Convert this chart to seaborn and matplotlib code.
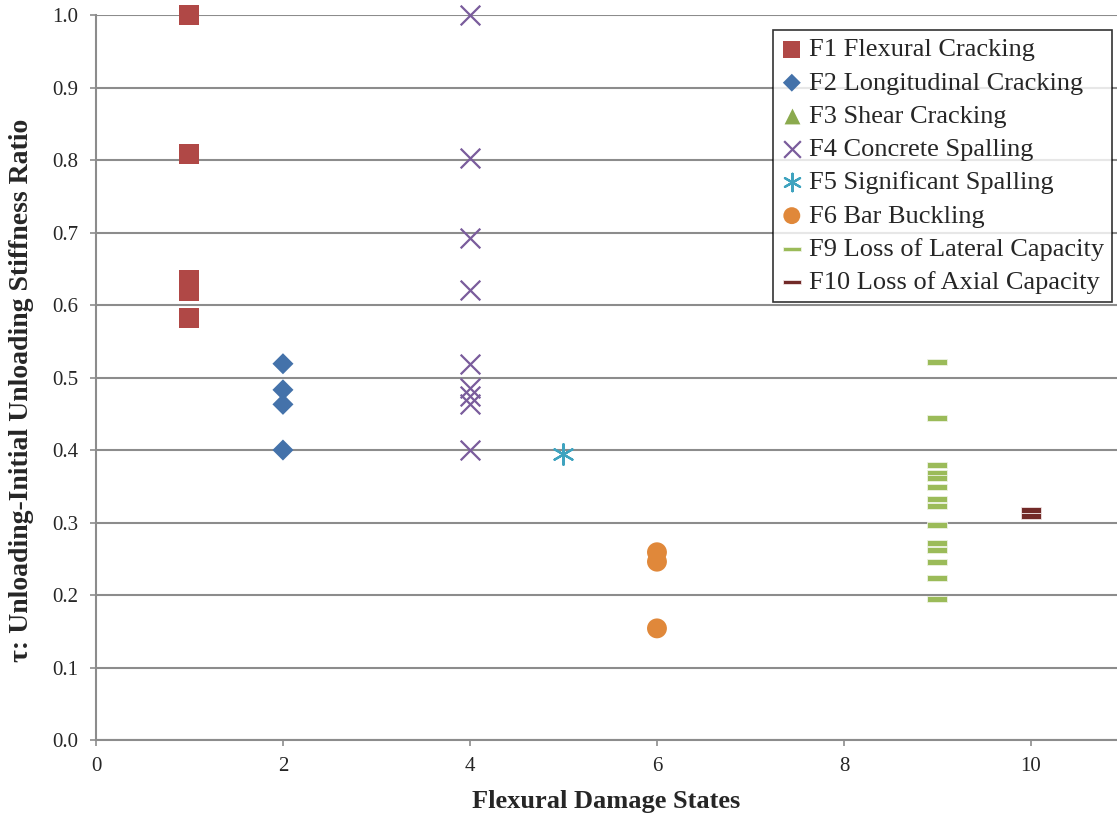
import numpy as np
import pandas as pd
import matplotlib
matplotlib.use("Agg")
import matplotlib.pyplot as plt
import seaborn as sns

# datos
f1_y = [1.0, 0.808, 0.634, 0.620, 0.582]
f2_y = [0.519, 0.483, 0.463, 0.400]
f3_y = []
f4_y = [1.0, 0.803, 0.692, 0.621, 0.519, 0.486, 0.474, 0.463, 0.400]
f5_y = [0.394]
f6_y = [0.259, 0.246, 0.154]
f9_y = [0.521, 0.444, 0.379, 0.368, 0.361, 0.349, 0.332, 0.323,
        0.297, 0.272, 0.262, 0.246, 0.223, 0.194]
f10_y = [0.317, 0.309]

estados = [1, 2, 3, 4, 5, 6, 9, 10]
nombres = ["F1 Flexural Cracking", "F2 Longitudinal Cracking", "F3 Shear Cracking",
           "F4 Concrete Spalling", "F5 Significant Spalling", "F6 Bar Buckling",
           "F9 Loss of Lateral Capacity", "F10 Loss of Axial Capacity"]
valores = [f1_y, f2_y, f3_y, f4_y, f5_y, f6_y, f9_y, f10_y]

# marcador tipo guion (rectangulo plano)
guion = [(-1, -0.28), (1, -0.28), (1, 0.28), (-1, 0.28), (-1, -0.28)]

colores = ["#B04846", "#4472AA", "#8BAA4E", "#7A5C9C", "#3FA3BF",
           "#E0883A", "#9BBB59", "#722A28"]
marcadores = ["s", "D", "^", "x", (6, 2, 0), "o", guion, guion]
tamanos = [207, 115, 180, 200, 220, 205, 225, 225]
grosores = [0, 0, 0, 1.6, 1.6, 0, 0.6, 0.6]
bordes = ["none", "none", "none", None, None, "none", "#eef3e4", "#f0e4e4"]

sns.set_style("white")
plt.rcParams["font.family"] = ["Liberation Serif", "DejaVu Serif"]

fig = plt.figure(figsize=(11.17, 8.16), dpi=100)
ax = fig.add_axes([0.0859, 0.0931, 0.9141, 0.8885])

for x, nombre, ys, c, m, s, lw, ec in zip(estados, nombres, valores, colores,
                                          marcadores, tamanos, grosores, bordes):
    if len(ys) == 0:
        ax.scatter([], [], marker=m, s=s, color=c, linewidth=0, label=nombre)
        continue
    df = pd.DataFrame({"x": [x] * len(ys), "y": ys})
    if ec is None:
        sns.scatterplot(data=df, x="x", y="y", ax=ax, marker=m, s=s,
                        color=c, linewidth=lw, label=nombre, zorder=3,
                        clip_on=False)
    else:
        sns.scatterplot(data=df, x="x", y="y", ax=ax, marker=m, s=s,
                        color=c, edgecolor=ec, linewidth=lw, label=nombre,
                        zorder=3, clip_on=False)

ax.set_xlim(0, 10.92)
ax.set_ylim(0, 1.0)
ax.set_xticks([0, 2, 4, 6, 8, 10])
ax.set_yticks(np.arange(0, 1.01, 0.1))
ax.set_yticklabels([f"{v:.1f}" for v in np.arange(0, 1.01, 0.1)])
ax.yaxis.grid(True, color="#8c8c8c", linewidth=1.5)
ax.set_axisbelow(True)

for lado in ["top", "right"]:
    ax.spines[lado].set_visible(False)
for lado in ["left", "bottom"]:
    ax.spines[lado].set_color("#8c8c8c")
    ax.spines[lado].set_linewidth(1.5)
ax.tick_params(axis="both", direction="out", length=4.5, width=1.2,
               color="#8c8c8c", labelsize=15, pad=8, bottom=True, left=True)

ax.set_xlabel("Flexural Damage States", fontsize=19, fontweight="bold", labelpad=10)
ax.set_ylabel("τ: Unloading-Initial Unloading Stiffness Ratio", fontsize=20,
              fontweight="bold")
ax.yaxis.set_label_coords(-0.061, 0.482)

ley = ax.legend(loc="upper right", bbox_to_anchor=(1112 / 1117, 1 - 30 / 816),
                bbox_transform=fig.transFigure, fontsize=19, frameon=True,
                fancybox=False, edgecolor="black", handletextpad=0.25,
                handlelength=0.8, borderpad=0.3, labelspacing=0.37,
                borderaxespad=0, markerscale=0.85)
ley.get_frame().set_linewidth(1.2)

plt.savefig("out.png", dpi=100)
